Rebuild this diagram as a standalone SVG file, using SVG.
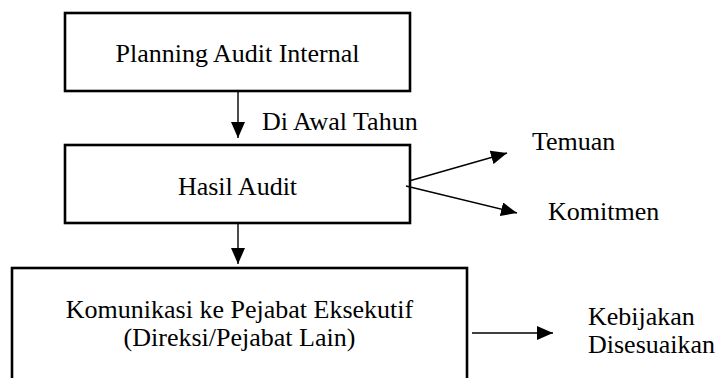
<svg xmlns="http://www.w3.org/2000/svg" width="718" height="378" viewBox="0 0 718 378">
<style>
.box{fill:#fff;stroke:#000;stroke-width:2.6}
.c{stroke:#000;stroke-width:1.4;fill:none}
</style>
<defs>
<marker id="ah" markerUnits="userSpaceOnUse" markerWidth="16" markerHeight="14" refX="16" refY="7" orient="auto">
<path d="M0,0 L16,7 L0,14 z" fill="#000"/>
</marker>
</defs>
<rect width="718" height="378" fill="#fff"/>
<g font-family="'Liberation Serif', Tinos, 'Times New Roman', 'DejaVu Serif', serif" font-size="26" fill="#000">
<g id="node-planning">
<rect class="box" x="65" y="13" width="345" height="78"/>
<text x="237.5" y="62" text-anchor="middle">Planning Audit Internal</text>
</g>
<g id="node-hasil">
<rect class="box" x="65" y="145" width="345" height="78"/>
<text x="237.5" y="195" text-anchor="middle">Hasil Audit</text>
</g>
<g id="node-komunikasi">
<rect class="box" x="12" y="268" width="455" height="140"/>
<text x="239.5" y="318" text-anchor="middle">Komunikasi ke Pejabat Eksekutif</text>
<text x="239.5" y="346" text-anchor="middle">(Direksi/Pejabat Lain)</text>
</g>
<g id="node-temuan"><text x="532" y="150">Temuan</text></g>
<g id="node-komitmen"><text x="548" y="220">Komitmen</text></g>
<g id="node-kebijakan">
<text x="588" y="325">Kebijakan</text>
<text x="588" y="353">Disesuaikan</text>
</g>
<g id="connectors">
<line class="c" x1="238" y1="92" x2="238" y2="138" marker-end="url(#ah)"/>
<text x="262" y="130">Di Awal Tahun</text>
<line class="c" x1="238" y1="224" x2="238" y2="264" marker-end="url(#ah)"/>
<line class="c" x1="409" y1="181" x2="507" y2="153" marker-end="url(#ah)"/>
<line class="c" x1="406" y1="186" x2="517" y2="213" marker-end="url(#ah)"/>
<line class="c" x1="472" y1="333" x2="553" y2="333" marker-end="url(#ah)"/>
</g>
</g>
</svg>
